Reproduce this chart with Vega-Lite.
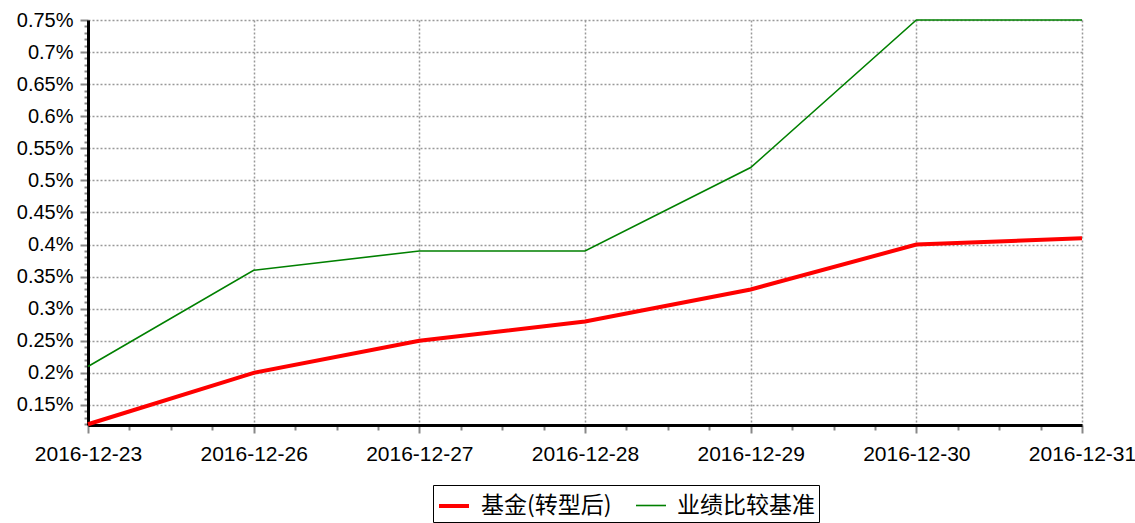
{
  "$schema": "https://vega.github.io/schema/vega-lite/v6.json",
  "width": 994,
  "height": 405,
  "autosize": "none",
  "padding": {"left": 88, "top": 20, "right": 53, "bottom": 98},
  "background": "white",
  "config": {
    "font": "Liberation Sans",
    "view": {"stroke": null}
  },
  "layer": [
    {
      "data": {
        "values": [
          {"t": 0, "v": 0.5},
          {"t": 6, "v": 0.5}
        ]
      },
      "mark": {"type": "point", "opacity": 0},
      "encoding": {
        "x": {
          "field": "t",
          "type": "quantitative",
          "scale": {"domain": [0, 6], "nice": false, "zero": false},
          "axis": {
            "orient": "bottom",
            "title": null,
            "values": [0.25, 0.5, 0.75, 1.25, 1.5, 1.75, 2.25, 2.5, 2.75, 3.25, 3.5, 3.75, 4.25, 4.5, 4.75, 5.25, 5.5, 5.75],
            "labels": false,
            "domain": false,
            "grid": false,
            "tickColor": "#888",
            "tickSize": 5,
            "tickWidth": 2
          }
        },
        "y": {
          "field": "v",
          "type": "quantitative",
          "scale": {"domain": [0.1188, 0.75], "nice": false, "zero": false},
          "axis": {
            "orient": "left",
            "title": null,
            "values": [0.12, 0.13, 0.14, 0.16, 0.17, 0.18, 0.19, 0.21, 0.22, 0.23, 0.24, 0.26, 0.27, 0.28, 0.29, 0.31, 0.32, 0.33, 0.34, 0.36, 0.37, 0.38, 0.39, 0.41, 0.42, 0.43, 0.44, 0.46, 0.47, 0.48, 0.49, 0.51, 0.52, 0.53, 0.54, 0.56, 0.57, 0.58, 0.59, 0.61, 0.62, 0.63, 0.64, 0.66, 0.67, 0.68, 0.69, 0.71, 0.72, 0.73, 0.74],
            "labels": false,
            "domain": false,
            "grid": false,
            "tickColor": "#888",
            "tickSize": 4,
            "tickWidth": 2
          }
        }
      }
    },
    {
      "data": {
        "values": [
          {"date": "2016-12-23", "series": "基金(转型后)", "value": 0.12},
          {"date": "2016-12-26", "series": "基金(转型后)", "value": 0.20},
          {"date": "2016-12-27", "series": "基金(转型后)", "value": 0.25},
          {"date": "2016-12-28", "series": "基金(转型后)", "value": 0.28},
          {"date": "2016-12-29", "series": "基金(转型后)", "value": 0.33},
          {"date": "2016-12-30", "series": "基金(转型后)", "value": 0.40},
          {"date": "2016-12-31", "series": "基金(转型后)", "value": 0.41},
          {"date": "2016-12-23", "series": "业绩比较基准", "value": 0.21},
          {"date": "2016-12-26", "series": "业绩比较基准", "value": 0.36},
          {"date": "2016-12-27", "series": "业绩比较基准", "value": 0.39},
          {"date": "2016-12-28", "series": "业绩比较基准", "value": 0.39},
          {"date": "2016-12-29", "series": "业绩比较基准", "value": 0.52},
          {"date": "2016-12-30", "series": "业绩比较基准", "value": 0.75},
          {"date": "2016-12-31", "series": "业绩比较基准", "value": 0.75}
        ]
      },
      "mark": {"type": "line"},
      "encoding": {
        "x": {
          "field": "date",
          "type": "ordinal",
          "scale": {"type": "point", "padding": 0},
          "axis": {
            "orient": "bottom",
            "title": null,
            "labelAngle": 0,
            "labelFontSize": 21,
            "labelColor": "#000",
            "labelPadding": 10,
            "domainColor": "#000",
            "domainWidth": 3,
            "tickColor": "#888",
            "tickSize": 8,
            "tickWidth": 2,
            "grid": true,
            "gridColor": "#999",
            "gridDash": [2, 2],
            "gridWidth": 1.5
          }
        },
        "y": {
          "field": "value",
          "type": "quantitative",
          "scale": {"domain": [0.1188, 0.75], "nice": false, "zero": false},
          "axis": {
            "orient": "left",
            "title": null,
            "values": [0.15, 0.2, 0.25, 0.3, 0.35, 0.4, 0.45, 0.5, 0.55, 0.6, 0.65, 0.7, 0.75],
            "labelExpr": "format(datum.value, '.2~f') + '%'",
            "labelFontSize": 20,
            "labelColor": "#000",
            "labelPadding": 7,
            "domainColor": "#000",
            "domainWidth": 3,
            "tickColor": "#888",
            "tickSize": 8,
            "tickWidth": 2,
            "grid": true,
            "gridColor": "#999",
            "gridDash": [2, 2],
            "gridWidth": 1.5
          }
        },
        "color": {
          "field": "series",
          "type": "nominal",
          "scale": {"domain": ["基金(转型后)", "业绩比较基准"], "range": ["#ff0000", "#008000"]},
          "legend": {
            "title": null,
            "orient": "none",
            "legendX": 345,
            "legendY": 465,
            "direction": "horizontal",
            "labelFontSize": 23,
            "labelFont": "Noto Sans CJK SC",
            "labelColor": "#000",
            "labelOffset": 10,
            "symbolType": "stroke",
            "symbolSize": 900,
            "strokeColor": "#000",
            "padding": 4,
            "columnPadding": 20,
            "labelLimit": 300
          }
        },
        "strokeWidth": {
          "field": "series",
          "type": "nominal",
          "scale": {"domain": ["基金(转型后)", "业绩比较基准"], "range": [4, 1.6]}
        }
      }
    }
  ],
  "resolve": {
    "scale": {"x": "independent"},
    "axis": {"x": "independent", "y": "independent"}
  }
}
